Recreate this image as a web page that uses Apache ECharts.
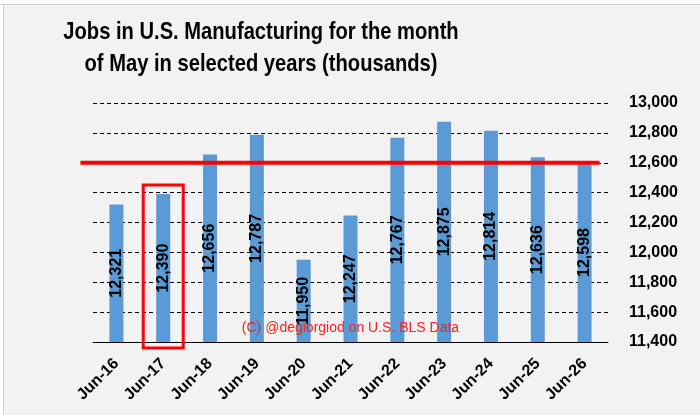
<!DOCTYPE html>
<html>
<head>
<meta charset="utf-8">
<script src="https://cdn.jsdelivr.net/npm/echarts@6/dist/echarts.min.js"></script>
<style>
  html, body { margin: 0; padding: 0; background: #ffffff; }
  #chart { width: 700px; height: 415px; }
</style>
</head>
<body>
<div id="chart"></div>
<script>
var categories = ['Jun-16', 'Jun-17', 'Jun-18', 'Jun-19', 'Jun-20', 'Jun-21', 'Jun-22', 'Jun-23', 'Jun-24', 'Jun-25', 'Jun-26'];
var jobs = [12321, 12390, 12656, 12787, 11950, 12247, 12767, 12875, 12814, 12636, 12598];
var yTicks = [11400, 11600, 11800, 12000, 12200, 12400, 12600, 12800, 13000];
var referenceLevel = 12600;
var highlightedCategory = 'Jun-17';
var watermarkCategory = 'Jun-21';
var titleText = 'Jobs in U.S. Manufacturing for the month\nof May in selected years (thousands)';
var watermark = '(C) @degiorgiod on U.S. BLS Data';

function fmt(v) { return String(v).replace(/\B(?=(\d{3})+(?!\d))/g, ','); }

var chart = echarts.init(document.getElementById('chart'), null, { renderer: 'canvas' });
var option = {
  backgroundColor: '#f2f2f2',
  animation: false,
  grid: { left: 93, right: 92, top: 103, bottom: 73, containLabel: false },
  xAxis: {
    type: 'category',
    data: categories,
    axisTick: { show: false },
    axisLine: { lineStyle: { color: '#000', width: 1 } },
    axisLabel: {
      rotate: 45,
      margin: 19,
      interval: 0,
      fontFamily: '"Liberation Sans", Arial, sans-serif',
      fontWeight: 'bold',
      fontSize: 16,
      color: '#000'
    }
  },
  yAxis: {
    type: 'value',
    position: 'right',
    min: yTicks[0],
    max: yTicks[yTicks.length - 1],
    interval: yTicks[1] - yTicks[0],
    axisLine: { show: false },
    axisTick: { show: false },
    splitLine: { lineStyle: { color: '#000', type: [4, 3], width: 1 } },
    axisLabel: {
      margin: 21,
      formatter: function (v) { return fmt(v); },
      fontFamily: '"Liberation Sans", Arial, sans-serif',
      fontWeight: 'bold',
      fontSize: 16,
      color: '#000'
    }
  },
  series: [{
    type: 'bar',
    data: jobs,
    barWidth: 14,
    itemStyle: { color: '#5b9bd5' },
    label: {
      show: true,
      position: 'inside',
      rotate: 90,
      formatter: function (p) { return fmt(p.value); },
      fontFamily: '"Liberation Sans", Arial, sans-serif',
      fontWeight: 'bold',
      fontSize: 16,
      color: '#000'
    }
  }]
};
chart.setOption(option);

function drawOverlays() {
  var idx = categories.indexOf(highlightedCategory);
  var cx = chart.convertToPixel({ xAxisIndex: 0 }, categories[idx]);
  var barTop = chart.convertToPixel({ yAxisIndex: 0 }, jobs[idx]);
  var axisY = chart.convertToPixel({ yAxisIndex: 0 }, yTicks[0]);
  var refY = chart.convertToPixel({ yAxisIndex: 0 }, referenceLevel);
  var firstX = chart.convertToPixel({ xAxisIndex: 0 }, categories[0]);
  var lastX = chart.convertToPixel({ xAxisIndex: 0 }, categories[categories.length - 1]);
  var wmX = chart.convertToPixel({ xAxisIndex: 0 }, watermarkCategory);
  chart.setOption({
    graphic: [
      { type: 'rect', shape: { x: 0, y: 0, width: 700, height: 4 }, style: { fill: '#ffffff' }, z: 100 },
      { type: 'line', shape: { x1: 0, y1: 4.5, x2: 700, y2: 4.5 }, style: { stroke: '#d0d0d0', lineWidth: 1 }, z: 101 },
      { type: 'line', shape: { x1: 3.5, y1: 4, x2: 3.5, y2: 415 }, style: { stroke: '#d0d0d0', lineWidth: 1 }, z: 101 },
      { type: 'rect', shape: { x: 0, y: 4, width: 3, height: 411 }, style: { fill: '#ffffff' }, z: 100 },
      {
        type: 'text',
        x: 261,
        y: 16,
        scaleX: 0.84,
        style: {
          text: titleText,
          fill: '#000',
          font: 'bold 24px "Liberation Sans", Arial, sans-serif',
          lineHeight: 32,
          align: 'center',
          verticalAlign: 'top'
        },
        z: 60
      },
      {
        type: 'line',
        shape: { x1: firstX - 36, y1: refY, x2: lastX + 15, y2: refY },
        style: { stroke: '#ff0000', lineWidth: 4 },
        z: 50
      },
      {
        type: 'rect',
        shape: { x: cx - 20, y: barTop - 9, width: 40, height: axisY - barTop + 15 },
        style: { fill: 'none', stroke: '#ff0000', lineWidth: 3 },
        z: 50
      },
      {
        type: 'text',
        x: wmX,
        y: axisY - 14,
        style: {
          text: watermark,
          fill: '#ff1f1f',
          font: '14px "Liberation Sans", Arial, sans-serif',
          align: 'center',
          verticalAlign: 'middle'
        },
        z: 50
      }
    ]
  });
}
drawOverlays();
</script>
</body>
</html>
